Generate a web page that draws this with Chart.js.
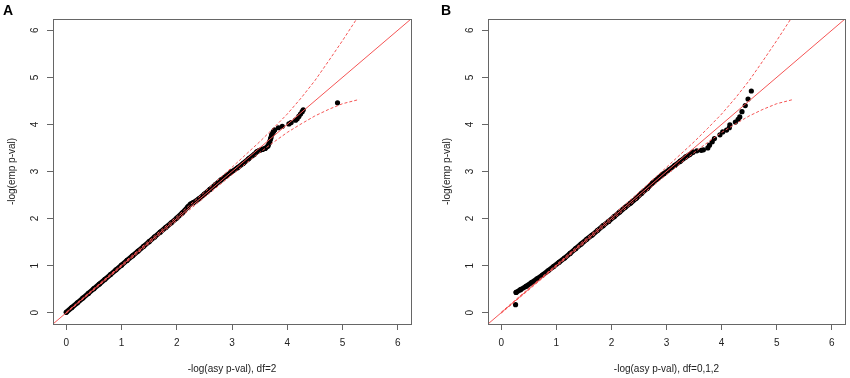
<!DOCTYPE html>
<html>
<head>
<meta charset="utf-8">
<script src="https://cdn.jsdelivr.net/npm/chart.js@4.4.1/dist/chart.umd.min.js"></script>
<style>
  html, body { margin: 0; padding: 0; background: #fff; }
  #wrap { position: relative; width: 850px; height: 378px; }
  .panel { position: absolute; top: 0; width: 425px; height: 378px; }
</style>
</head>
<body>
<div id="wrap">
  <div class="panel" style="left:0"><canvas id="chartA"></canvas></div>
  <div class="panel" style="left:425px"><canvas id="chartB"></canvas></div>
</div>
<script>
const tickVals = [0, 1, 2, 3, 4, 5, 6];
const axisMin = -0.24, axisMax = 6.24;
const diagX = [-0.3, 6.3];

// dashed band (same in both panels)
const bandX     = [0, 1, 2, 2.5, 3, 3.25, 3.5, 3.75, 4, 4.25, 4.5, 4.75, 5, 5.3];
const bandUpper = [0.01, 1.02, 2.04, 2.56, 3.09, 3.36, 3.63, 3.92, 4.22, 4.56, 4.93, 5.35, 5.78, 6.32];
const bandLower = [-0.01, 0.98, 1.96, 2.45, 2.93, 3.17, 3.40, 3.62, 3.83, 4.01, 4.18, 4.32, 4.44, 4.53];

// panel A
const aDenseX = [0, 0.1, 0.2, 0.3, 0.4, 0.5, 0.6, 0.7, 0.8, 0.9, 1.0, 1.1, 1.2, 1.3, 1.4, 1.5, 1.6, 1.7, 1.8, 1.9, 2.0,
                 2.1, 2.2, 2.25, 2.3, 2.4, 2.5, 2.6, 2.7, 2.8, 2.9, 3.0, 3.1, 3.2, 3.3, 3.4, 3.45, 3.5, 3.55, 3.6, 3.65,
                 3.68, 3.70, 3.72, 3.75, 3.77];
const aDenseY = [0.01, 0.11, 0.21, 0.31, 0.41, 0.51, 0.61, 0.71, 0.81, 0.91, 1.01, 1.11, 1.21, 1.31, 1.41, 1.51, 1.61, 1.71, 1.81, 1.91, 2.01,
                 2.12, 2.25, 2.31, 2.34, 2.42, 2.52, 2.62, 2.72, 2.82, 2.91, 3.00, 3.08, 3.17, 3.27, 3.36, 3.42, 3.45, 3.47, 3.49, 3.54,
                 3.62, 3.70, 3.78, 3.85, 3.88];
const aTailX = [3.84, 3.91, 4.03, 4.07, 4.15, 4.18, 4.21, 4.24, 4.27, 4.29, 4.91];
const aTailY = [3.93, 3.96, 4.01, 4.04, 4.09, 4.12, 4.17, 4.22, 4.27, 4.31, 4.46];

// panel B
const bDenseX = [0.27, 0.35, 0.45, 0.55, 0.65, 0.75, 0.85, 0.95, 1.05, 1.15, 1.25, 1.35, 1.45, 1.55, 1.65, 1.75, 1.85, 1.95,
                 2.05, 2.15, 2.25, 2.35, 2.45, 2.55, 2.65, 2.75, 2.85, 2.95, 3.05, 3.15, 3.25, 3.35, 3.42, 3.48];
const bDenseY = [0.43, 0.49, 0.56, 0.64, 0.72, 0.80, 0.89, 0.98, 1.07, 1.16, 1.26, 1.36, 1.46, 1.56, 1.65, 1.75, 1.85, 1.94,
                 2.04, 2.14, 2.24, 2.33, 2.43, 2.54, 2.64, 2.76, 2.86, 2.95, 3.04, 3.13, 3.22, 3.31, 3.36, 3.41];
const bTailX = [0.26, 3.55, 3.63, 3.67, 3.75, 3.78, 3.83, 3.87, 3.97, 4.02, 4.09, 4.14, 4.15, 4.25, 4.30, 4.33, 4.37, 4.43, 4.48, 4.54];
const bTailY = [0.17, 3.44, 3.45, 3.46, 3.50, 3.56, 3.63, 3.70, 3.78, 3.84, 3.88, 3.93, 3.99, 4.05, 4.11, 4.16, 4.27, 4.40, 4.54, 4.71];

const pts = (xs, ys) => xs.map((x, i) => ({ x: x, y: ys[i] }));
const RED = 'rgb(245,85,85)';
const FONT = 'Liberation Sans, Arial, sans-serif';

const rLook = {
    id: 'rLook',
    afterDraw(chart, args, opts) {
        const ctx = chart.ctx, a = chart.chartArea, ys = chart.scales.y;
        ctx.save();
        ctx.strokeStyle = '#666';
        ctx.lineWidth = 1;
        ctx.strokeRect(Math.round(a.left) + 0.5, Math.round(a.top) + 0.5, Math.round(a.right - a.left), Math.round(a.bottom - a.top));
        // y tick labels, turned like R does
        ctx.fillStyle = '#222';
        ctx.font = '10px ' + FONT;
        ctx.textAlign = 'center';
        ctx.textBaseline = 'middle';
        ys.ticks.forEach(t => {
            ctx.save();
            ctx.translate(a.left - 17.5, ys.getPixelForValue(t.value));
            ctx.rotate(-Math.PI / 2);
            ctx.fillText(String(t.value), 0, 0);
            ctx.restore();
        });
        ctx.font = 'bold 14px ' + FONT;
        ctx.textAlign = 'left';
        ctx.textBaseline = 'alphabetic';
        ctx.fillStyle = '#000';
        ctx.fillText(opts.letter, opts.letterX, 15);
        ctx.restore();
    }
};

function makePanel(id, letter, letterX, xTitle, dX, dY, tX, tY, leftW, rightPad) {
    return new Chart(document.getElementById(id), {
        type: 'scatter',
        data: {
            datasets: [
                { data: pts(diagX, diagX), showLine: true, borderColor: RED, borderWidth: 1, pointRadius: 0, order: 0 },
                { data: pts(bandX, bandUpper), showLine: true, borderColor: RED, borderWidth: 1, borderDash: [3, 2], pointRadius: 0, order: 0 },
                { data: pts(bandX, bandLower), showLine: true, borderColor: RED, borderWidth: 1, borderDash: [3, 2], pointRadius: 0, order: 0 },
                { data: pts(dX, dY), showLine: true, borderColor: '#000', borderWidth: 5, borderCapStyle: 'round', borderJoinStyle: 'round',
                  pointRadius: 2.6, backgroundColor: '#000', pointBorderWidth: 0, order: 1 },
                { data: pts(tX, tY), pointRadius: 2.6, backgroundColor: '#000', pointBorderWidth: 0, order: 1 }
            ]
        },
        options: {
            responsive: true,
            maintainAspectRatio: false,
            animation: false,
            events: [],
            layout: { padding: { left: 0, right: rightPad, top: 19, bottom: 0 } },
            plugins: { legend: { display: false }, tooltip: { enabled: false }, rLook: { letter: letter, letterX: letterX } },
            scales: {
                x: {
                    type: 'linear', min: axisMin, max: axisMax,
                    afterBuildTicks: s => { s.ticks = tickVals.map(v => ({ value: v })); },
                    afterFit: s => { s.height = 54; },
                    grid: { drawOnChartArea: false, drawTicks: true, tickLength: 6, color: '#666' },
                    border: { display: false },
                    ticks: { color: '#222', font: { family: FONT, size: 10 }, padding: 7, maxRotation: 0 },
                    title: { display: true, text: xTitle, color: '#222', font: { family: FONT, size: 10 }, padding: { top: 0, bottom: 3 } }
                },
                y: {
                    type: 'linear', min: axisMin, max: axisMax,
                    afterBuildTicks: s => { s.ticks = tickVals.map(v => ({ value: v })); },
                    afterFit: s => { s.width = leftW; },
                    grid: { drawOnChartArea: false, drawTicks: true, tickLength: 6, color: '#666' },
                    border: { display: false },
                    ticks: { display: false },
                    title: { display: true, text: '-log(emp p-val)', color: '#222', font: { family: FONT, size: 10 }, padding: { top: leftW - 47, bottom: 0 } }
                }
            }
        },
        plugins: [rLook]
    });
}

makePanel('chartA', 'A', 3, '-log(asy p-val), df=2', aDenseX, aDenseY, aTailX, aTailY, 53, 14);
makePanel('chartB', 'B', 16, '-log(asy p-val), df=0,1,2', bDenseX, bDenseY, bTailX, bTailY, 63, 5);
</script>
</body>
</html>
